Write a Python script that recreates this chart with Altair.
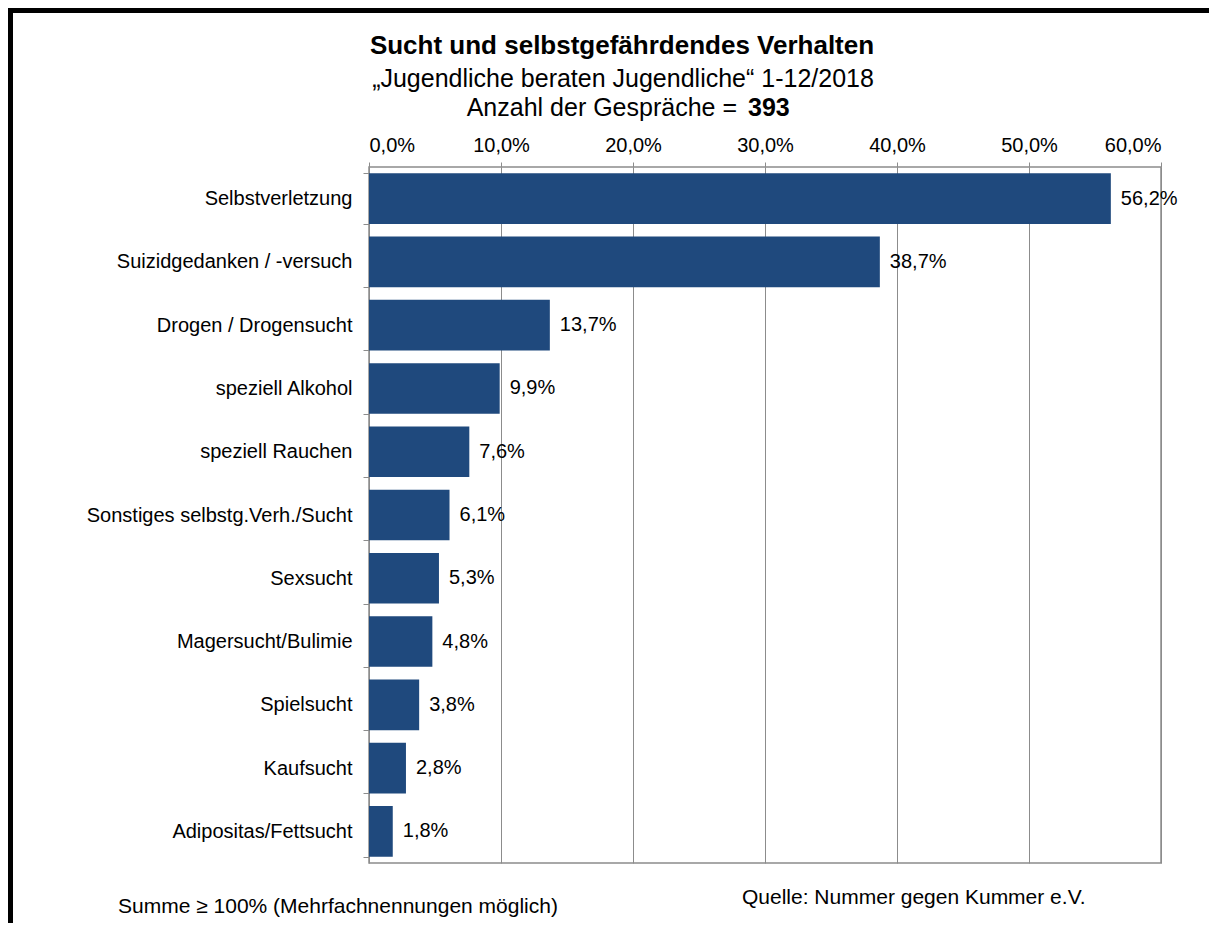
import altair as alt
import pandas as pd

categories = [
    "Selbstverletzung",
    "Suizidgedanken / -versuch",
    "Drogen / Drogensucht",
    "speziell Alkohol",
    "speziell Rauchen",
    "Sonstiges selbstg.Verh./Sucht",
    "Sexsucht",
    "Magersucht/Bulimie",
    "Spielsucht",
    "Kaufsucht",
    "Adipositas/Fettsucht",
]
values = [56.2, 38.7, 13.7, 9.9, 7.6, 6.1, 5.3, 4.8, 3.8, 2.8, 1.8]
x_ticks = [0, 10, 20, 30, 40, 50, 60]

title_line1 = "Sucht und selbstgefährdendes Verhalten"
title_line2 = "\u201eJugendliche beraten Jugendliche\u201c 1-12/2018"
title_line3a = "Anzahl der Gespräche ="
title_line3b = "393"
foot_left = "Summe \u2265 100% (Mehrfachnennungen möglich)"
foot_right = "Quelle: Nummer gegen Kummer e.V."

FONT = "Liberation Sans"
BAR = "#1F497D"
GRID = "#8c8c8c"

W, H = 792, 696
PAD_L, PAD_T, PAD_R, PAD_B = 361, 159, 48, 60

df = pd.DataFrame({"cat": categories, "val": values})

x_enc = alt.X(
    "val:Q",
    scale=alt.Scale(domain=[0, 60], nice=False),
    axis=alt.Axis(
        orient="top",
        values=x_ticks,
        labelExpr="replace(format(datum.value, '.1f'), '.', ',') + '%'",
        title=None,
        grid=True,
        gridColor=GRID,
        gridWidth=1,
        domain=False,
        tickColor=GRID,
        tickSize=5,
        labelPadding=7,
        labelFont=FONT,
        labelFontSize=20,
        labelColor="#000000",
    ),
)
y_enc = alt.Y(
    "cat:N",
    sort=categories,
    scale=alt.Scale(paddingInner=0.2, paddingOuter=0.1),
    axis=alt.Axis(
        title=None,
        grid=False,
        domain=False,
        tickBand="extent",
        tickColor=GRID,
        tickSize=6,
        labelPadding=11,
        labelFont=FONT,
        labelFontSize=20,
        labelColor="#000000",
        labelLimit=400,
    ),
)

bars = alt.Chart(df).mark_bar(color=BAR).encode(x=x_enc, y=y_enc)

labels = (
    alt.Chart(df)
    .transform_calculate(lab="replace(format(datum.val, '.1f'), '.', ',') + '%'")
    .mark_text(align="left", baseline="middle", dx=10, font=FONT, fontSize=20, color="#000000")
    .encode(x=alt.X("val:Q"), y=alt.Y("cat:N", sort=categories), text="lab:N")
)

one = pd.DataFrame({"k": [0]})


def txt(s, x, y, align="center", bold=False, size=17):
    return (
        alt.Chart(one)
        .mark_text(
            align=align,
            baseline="middle",
            font=FONT,
            fontSize=size,
            fontWeight="bold" if bold else "normal",
            color="#000000",
        )
        .encode(x=alt.value(x), y=alt.value(y), text=alt.value(s))
    )


t1 = txt(title_line1, 253, -121, bold=True, size=26)
t2 = txt(title_line2, 254, -88, size=25)
t3a = txt(title_line3a, 368, -59, align="right", size=25)
t3b = txt(title_line3b, 379, -59, align="left", bold=True, size=25)
f1 = txt(foot_left, -251, 740, align="left", size=21)
f2 = txt(foot_right, 373, 731, align="left", size=21)

border_top = alt.Chart(one).mark_rect(color="#000000").encode(
    x=alt.value(-PAD_L), x2=alt.value(W + PAD_R), y=alt.value(-PAD_T), y2=alt.value(-PAD_T + 5)
)
border_left = alt.Chart(one).mark_rect(color="#000000").encode(
    x=alt.value(-PAD_L), x2=alt.value(-PAD_L + 5), y=alt.value(-PAD_T), y2=alt.value(H + PAD_B)
)

chart = (
    alt.layer(bars, labels, t1, t2, t3a, t3b, f1, f2, border_top, border_left)
    .properties(
        width=W,
        height=H,
        autosize=alt.AutoSizeParams(type="none"),
        padding={"left": PAD_L, "top": PAD_T, "right": PAD_R, "bottom": PAD_B},
        background="#ffffff",
    )
    .configure_view(stroke=GRID, strokeWidth=1.5)
)

chart.save("out.html", embed_options={"renderer": "svg", "actions": False})
